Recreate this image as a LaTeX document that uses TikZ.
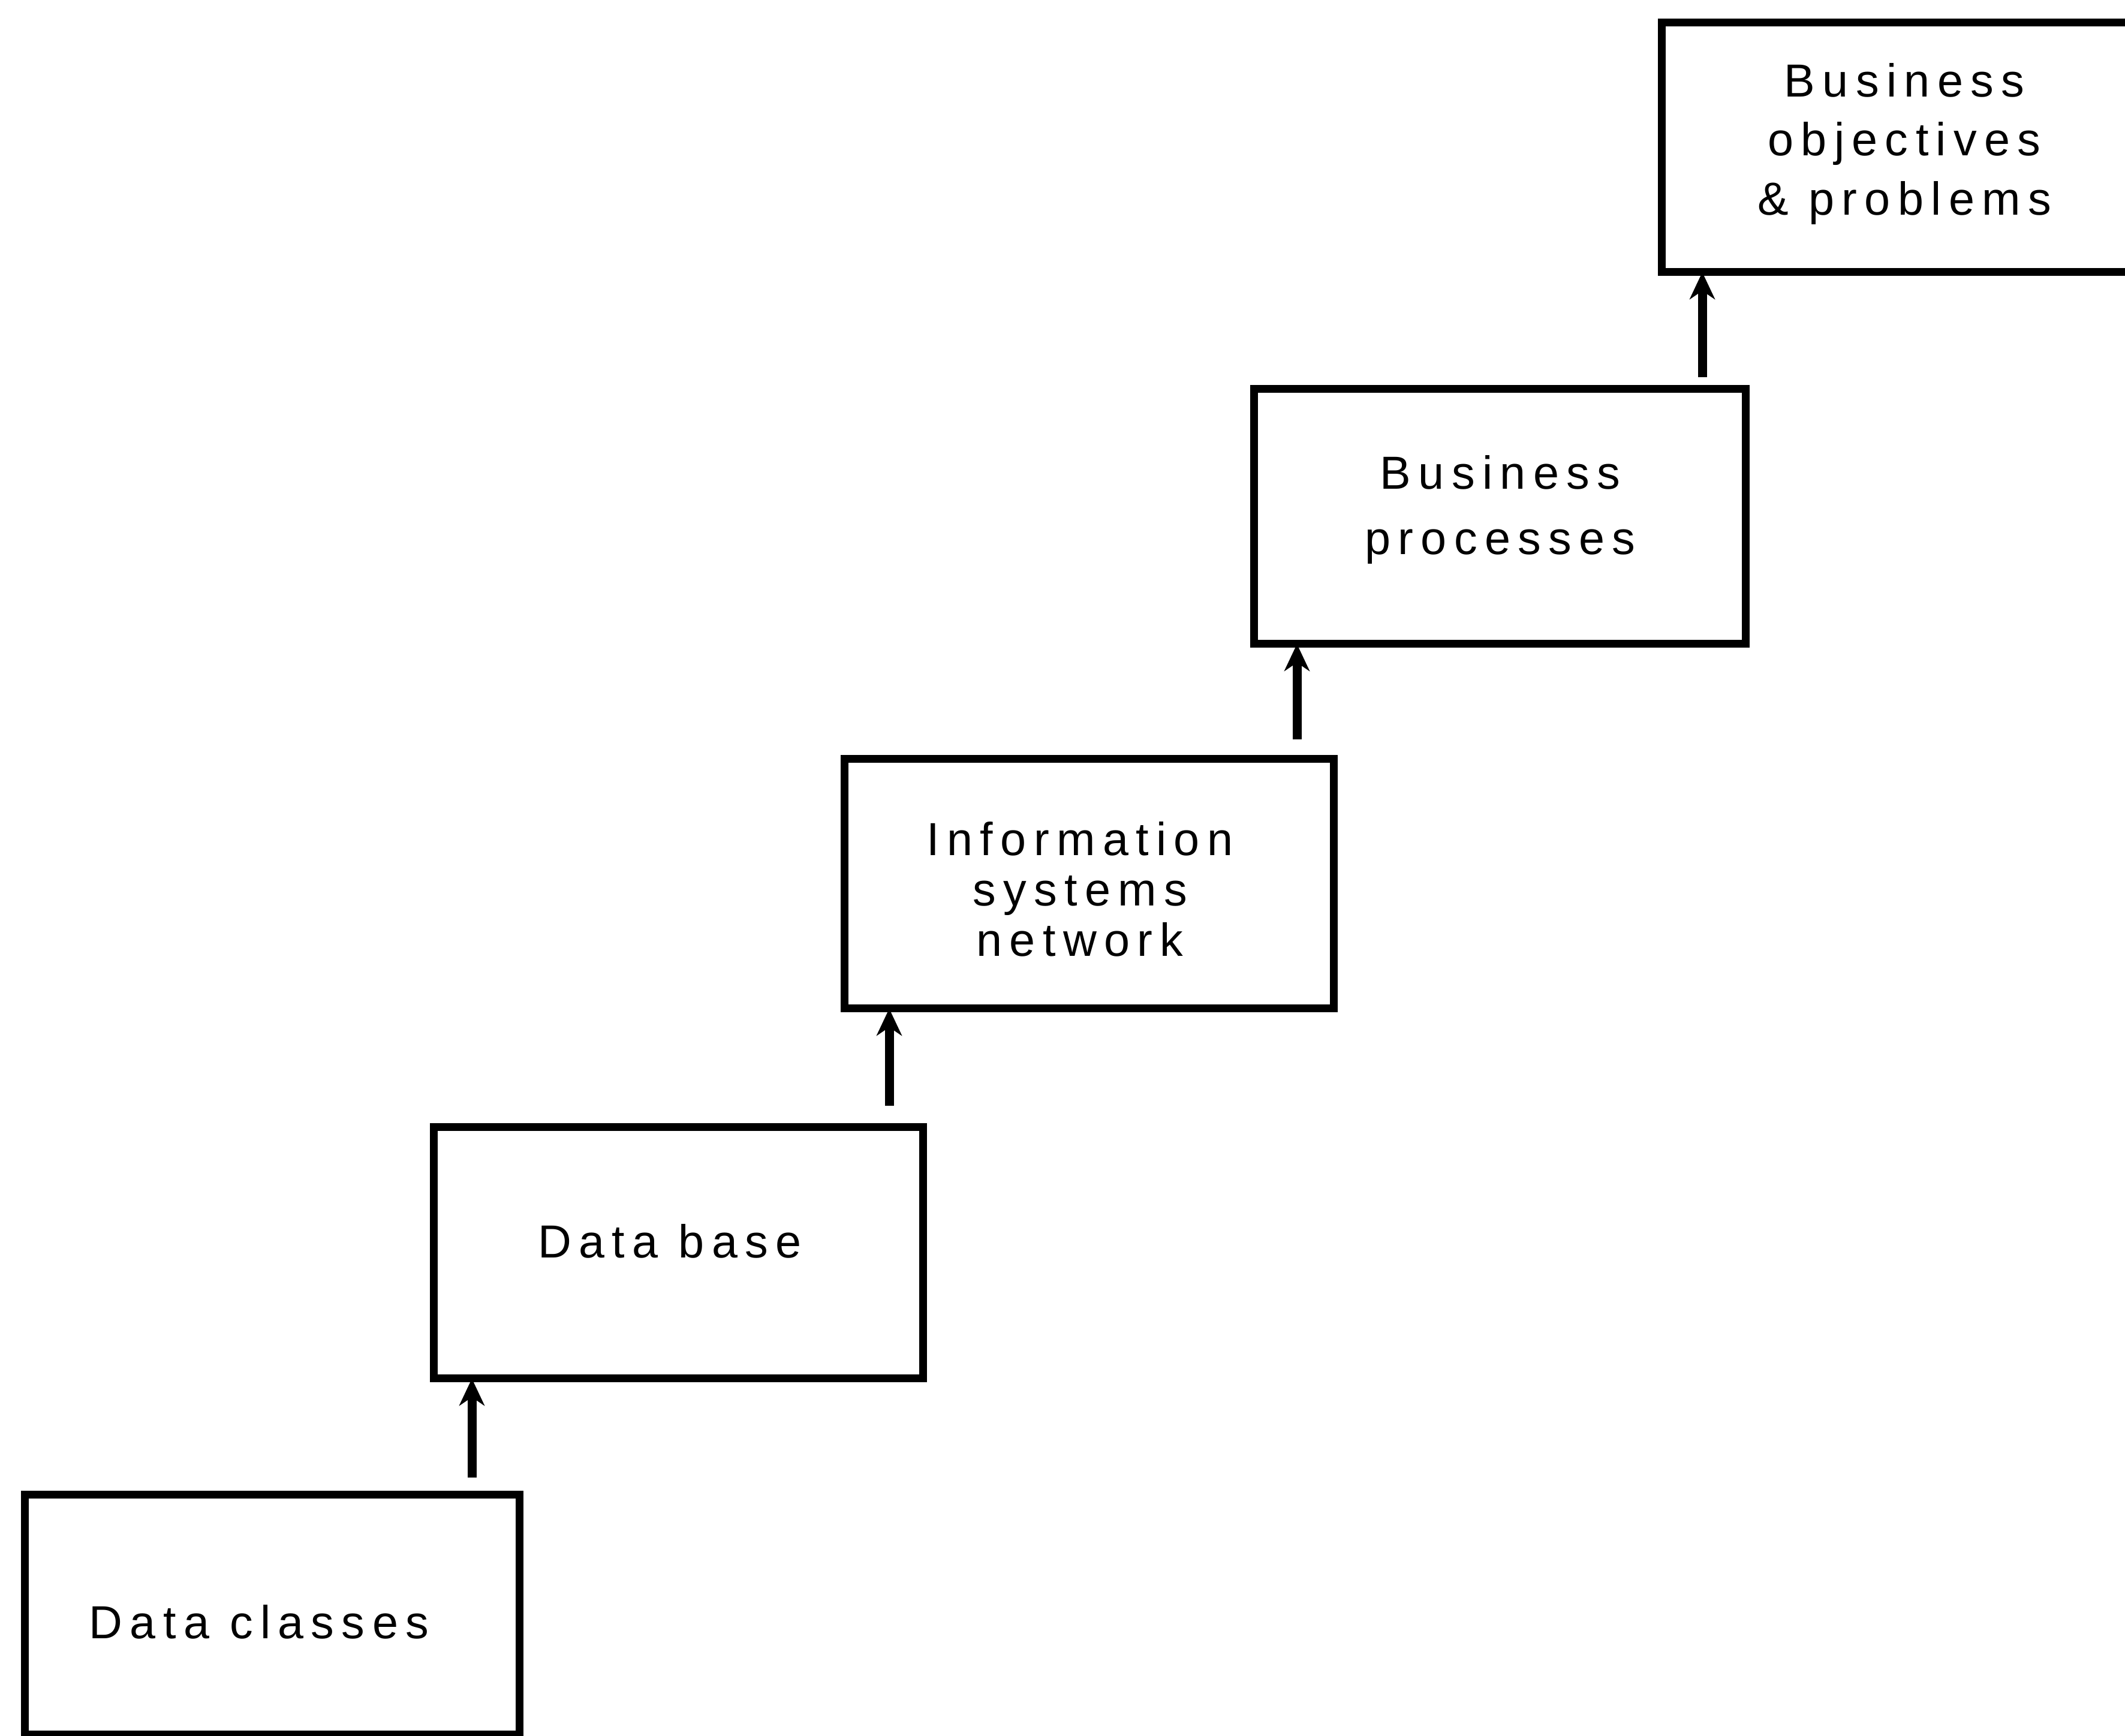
\documentclass[tikz,border=0pt]{standalone}
\usepackage{fontspec}
\setmainfont{Liberation Sans}[LetterSpace=16]
\usetikzlibrary{arrows.meta}
\begin{document}
\begin{tikzpicture}[
  stage/.style={draw, line width=0.13cm, inner sep=0pt, outer sep=0pt},
  caption/.style={align=center, inner sep=0pt, font=\fontsize{22}{#1}\selectfont},
  caption/.default=27,
  arr/.style={line width=0.15cm,
    -{Stealth[length=0.45cm,width=0.42cm,inset=0.14cm]}},
]
\useasboundingbox (0,0) rectangle (35.44,28.95);
\fill[white] (0,0) rectangle (35.44,28.95);

% the five stages, rising from left to right
\node[stage, minimum width=8.25cm, minimum height=4.0cm]  (dc)  at (4.535,2.02)  {};
\node[stage, minimum width=8.16cm, minimum height=4.19cm] (db)  at (11.31,8.055) {};
\node[stage, minimum width=8.16cm, minimum height=4.16cm] (isn) at (18.16,14.21) {};
\node[stage, minimum width=8.2cm,  minimum height=4.25cm] (bp)  at (25.01,20.335) {};
\node[stage, minimum width=8.2cm,  minimum height=4.16cm] (bop) at (31.81,26.49) {};

% their captions
\node[caption] (dc-t)  at (4.32,1.90)   {Data classes};
\node[caption] (db-t)  at (11.17,8.25)  {Data base};
\node[caption=24] (isn-t) at (18.01,14.12) {Information\\systems\\network};
\node[caption=31] (bp-t)  at (25.02,20.45) {Business\\processes};
\node[caption=28] (bop-t) at (31.76,26.55) {Business\\objectives\\\& problems};

% arrow tips sit on the lower edge of the box above
\coordinate (t1) at ([xshift=0.64cm]db.south west);
\coordinate (t2) at ([xshift=0.75cm]isn.south west);
\coordinate (t3) at ([xshift=0.72cm]bp.south west);
\coordinate (t4) at ([xshift=0.68cm]bop.south west);

\draw[arr, shorten <=0.29cm] (dc.north -| t1)  -- (t1);
\draw[arr, shorten <=0.36cm] (db.north -| t2)  -- (t2);
\draw[arr, shorten <=0.33cm] (isn.north -| t3) -- (t3);
\draw[arr, shorten <=0.2cm]  (bp.north -| t4)  -- (t4);
\end{tikzpicture}
\end{document}
